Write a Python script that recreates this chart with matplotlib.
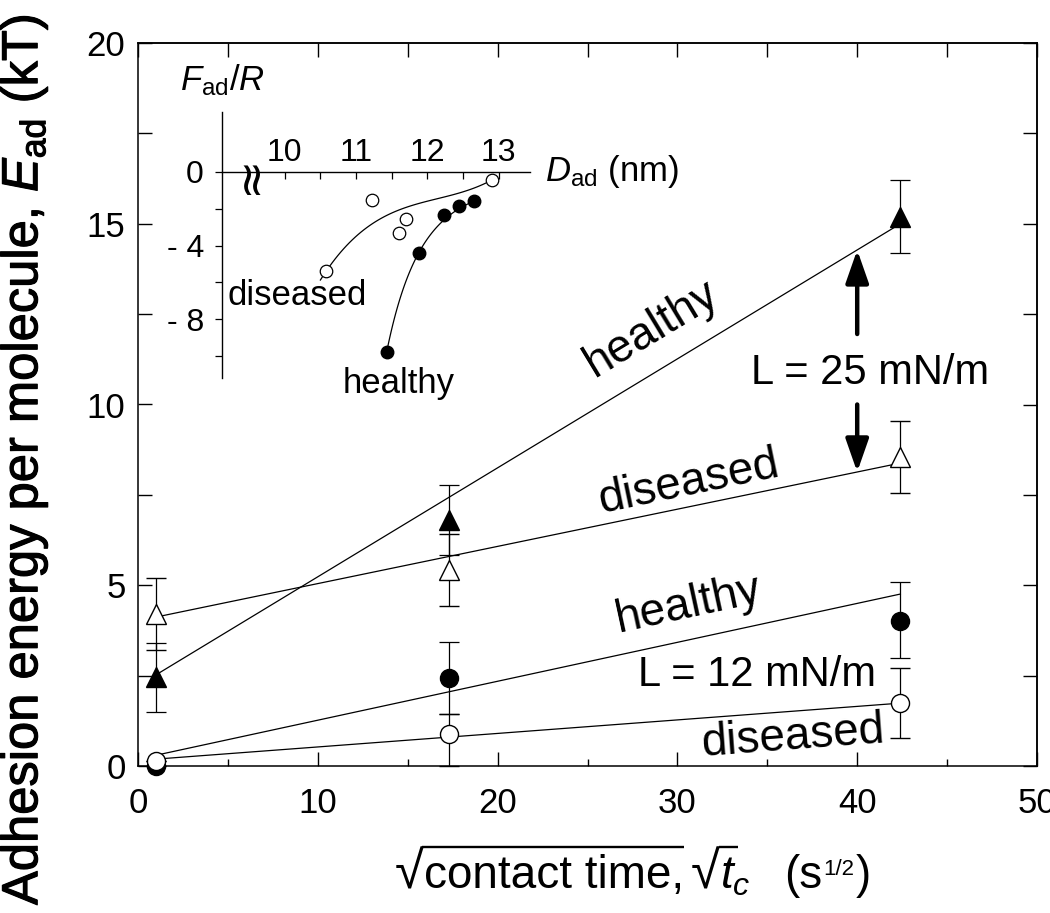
import numpy as np
import matplotlib
matplotlib.use("Agg")
import matplotlib.pyplot as plt
import matplotlib.patheffects as pe
from matplotlib import font_manager as fm
from matplotlib.lines import Line2D
from matplotlib.textpath import TextPath
from matplotlib.transforms import IdentityTransform


def pick_font(name, fallback):
    try:
        fm.findfont(fm.FontProperties(family=name), fallback_to_default=False)
        return name
    except Exception:
        return fallback


SANS = "Liberation Sans"
NARROW = pick_font("Liberation Sans Narrow", SANS)

plt.rcParams["font.family"] = [SANS, "DejaVu Sans"]
plt.rcParams["mathtext.fontset"] = "custom"
plt.rcParams["mathtext.rm"] = SANS
plt.rcParams["mathtext.it"] = SANS + ":italic"
plt.rcParams["mathtext.bf"] = SANS + ":bold"

# main panel: sqrt(contact time) vs adhesion energy (kT)
sqrt_tc = [1.0, 17.3, 42.4]
healthy_25 = [2.45, 6.8, 15.2]
healthy_25_err = [0.95, 0.97, 1.0]
diseased_25 = [4.2, 5.42, 8.55]
diseased_25_err = [1.0, 1.0, 1.0]
healthy_12 = [0.0, 2.43, 4.0]
healthy_12_err_lo = [0.0, 1.0, 1.0]
healthy_12_err_hi = [0.0, 1.0, 1.1]
diseased_12 = [0.15, 0.89, 1.74]
diseased_12_err_lo = [0.0, 0.89, 0.97]
diseased_12_err_hi = [0.0, 0.56, 0.97]

# linear fits: healthy 25, diseased 25, healthy 12, diseased 12
fit_slope = [0.3014, 0.1029, 0.1077, 0.0374]
fit_icpt = [2.22, 4.017, 0.19, 0.153]

# inset: D_ad (nm) vs F_ad/R
d_ad_dis = [10.58, 11.22, 11.60, 11.70, 12.90]
f_ad_dis = [-5.38, -1.52, -3.32, -2.55, -0.43]
d_ad_hea = [11.43, 11.88, 12.23, 12.45, 12.66]
f_ad_hea = [-9.78, -4.4, -2.34, -1.85, -1.58]

# inset fit curves
dis_fit_d0, dis_fit_range = 10.58, (10.50, 12.90)
dis_fit_coef = [-5.4, 5.682, -3.030, 0.647]          # cubic in (D - d0)
hea_fit_d0, hea_fit_range = 11.43, (11.43, 12.66)
hea_fit_logcoef = [2.28, -1.949, 0.379]              # ln(-F) quadratic in (D - d0)


def line(i, x):
    return fit_slope[i] * np.asarray(x) + fit_icpt[i]


fig = plt.figure(figsize=(10.5, 9.13), dpi=100)
W, H = 1050, 913
ax = fig.add_axes([138 / W, 1 - 766 / H, (1037 - 138) / W, (766 - 43) / H])

xfit = np.linspace(sqrt_tc[0], sqrt_tc[-1], 50)
for i in range(4):
    ax.plot(xfit, line(i, xfit), color="k", lw=0.9, zorder=2)

eb = dict(color="k", ecolor="k", elinewidth=0.9, capsize=7, capthick=0.9,
          ls="none", zorder=3, clip_on=False)
ax.errorbar(sqrt_tc, healthy_25, yerr=healthy_25_err, marker="^", ms=14,
            mfc="k", mec="k", **eb)
ax.errorbar(sqrt_tc, diseased_25, yerr=diseased_25_err, marker="^", ms=14,
            mfc="white", mec="k", mew=1.0, **eb)
ax.errorbar(sqrt_tc, healthy_12, yerr=[healthy_12_err_lo, healthy_12_err_hi],
            marker="o", ms=13, mfc="k", mec="k", **eb)
ax.errorbar(sqrt_tc, diseased_12, yerr=[diseased_12_err_lo, diseased_12_err_hi],
            marker="o", ms=13, mfc="white", mec="k", mew=1.0, **eb)

ax.set_xlim(0, 50)
ax.set_ylim(0, 20)
ax.set_xticks(np.arange(0, 51, 10))
ax.set_xticks(np.arange(5, 50, 10), minor=True)
ax.set_yticks(np.arange(0, 21, 5))
ax.set_yticks(np.arange(2.5, 20, 5), minor=True)
ax.tick_params(axis="x", which="major", direction="in", length=10, width=1.0,
               labelsize=25, pad=15)
ax.tick_params(axis="x", which="minor", direction="in", length=5, width=1.0)
ax.tick_params(axis="y", which="both", direction="in", length=10, width=1.0,
               labelsize=25, pad=9)
for sp in ax.spines.values():
    sp.set_linewidth(1.1)

top = ax.secondary_xaxis("top")
top.set_xticks(np.arange(0, 51, 5))
top.tick_params(direction="in", length=10, width=1.0, labeltop=False)
right = ax.secondary_yaxis("right")
right.set_yticks(np.arange(0, 20.1, 2.5))
right.tick_params(direction="in", length=10, width=1.0, labelright=False)
for sec in (top, right):
    for sp in sec.spines.values():
        sp.set_linewidth(1.1)

plt.setp(ax.get_xticklabels() + ax.get_yticklabels(), family=NARROW)


def angle(i):
    return np.degrees(np.arctan(fit_slope[i]))


# labels along the fitted lines
for i, (x, y, s) in enumerate([(28.6, 12.1, "healthy"), (30.6, 7.83, "diseased"),
                               (30.6, 4.45, "healthy"), (36.4, 0.8, "diseased")]):
    ax.text(x, y, s, fontsize=33, rotation=angle(i), transform_rotates_text=True,
            rotation_mode="anchor", ha="center", va="center")
ax.text(34.4, 2.52, "L = 12 mN/m", fontsize=30, ha="center", va="center")
ax.text(40.7, 10.87, "L = 25 mN/m", fontsize=30, ha="center", va="center")

arrow_x = 40
arr = dict(arrowstyle="-|>,head_length=1.0,head_width=0.35", color="k",
           lw=3.2, mutation_scale=20, shrinkA=0, shrinkB=0)
ax.annotate("", xy=(arrow_x, float(line(0, arrow_x))), xytext=(arrow_x, 11.95),
            arrowprops=arr)
ax.annotate("", xy=(arrow_x, float(line(1, arrow_x))), xytext=(arrow_x, 10.0),
            arrowprops=arr)

# x label: built piece by piece so the radicals get a proper bar
renderer = fig.canvas.get_renderer()
PX = fig.dpi / 72.0
base_y = H - 888
lab_size, rad_size = 33, 38
rad_ext = TextPath((0, 0), "\u221a", size=rad_size,
                   prop=fm.FontProperties(family=SANS)).get_extents()
bar_y = base_y + rad_ext.y1 * PX - 1.2


def put(x, s, size, dy=0):
    t = fig.text(x, base_y + dy, s, fontsize=size, ha="left", va="baseline",
                 transform=IdentityTransform())
    return x + t.get_window_extent(renderer).width


def bar(x0, x1):
    fig.add_artist(Line2D([x0, x1], [bar_y, bar_y], color="k", lw=1.7,
                          transform=IdentityTransform(), solid_capstyle="butt"))


x = 395
x_r = put(x, "\u221a", rad_size)
x0 = x + rad_ext.x1 * PX - 1.5
x = put(x_r, "contact time,", lab_size)
bar(x0, x)
x += 7
x_r = put(x, "\u221a", rad_size)
x0 = x + rad_ext.x1 * PX - 1.5
t_w = fig.text(0, 0, "$t$", fontsize=lab_size).get_window_extent(renderer).width
fig.texts[-1].remove()
x_end = put(x_r, "$t_c$", lab_size)
bar(x0, x_r + t_w + 2)
x = put(x_end + 34, "(s", lab_size)
x = put(x + 1, "1/2", 16, dy=13)
put(x + 1, ")", lab_size)

fig.text(24 / W, 1 - 905 / H,
         r"Adhesion energy per molecule, $E_{\mathrm{ad}}$ (kT)",
         rotation=90, ha="center", va="bottom", fontsize=36.5,
         path_effects=[pe.withStroke(linewidth=0.8, foreground="k")])

# inset
axin = fig.add_axes([222 / W, 1 - 378 / H, (530 - 222) / W, (378 - 112) / H])
axin.patch.set_alpha(0)
axin.set_xlim(9.12, 13.44)
axin.set_ylim(-11.2, 3.26)
axin.spines["right"].set_visible(False)
axin.spines["bottom"].set_visible(False)
axin.spines["top"].set_position(("data", 0))
axin.spines["top"].set_linewidth(1.0)
axin.spines["left"].set_linewidth(1.0)
axin.xaxis.set_ticks_position("top")
axin.set_xticks([10, 11, 12, 13])
axin.set_xticks([10.5, 11.5, 12.5], minor=True)
axin.tick_params(axis="x", which="both", direction="in", length=5, width=0.9,
                 labelsize=23, pad=3)
axin.set_yticks([0, -2, -4, -6, -8, -10])
axin.set_yticklabels(["0", "", "- 4", "", "- 8", ""])
axin.tick_params(axis="y", direction="out", length=5, width=0.9,
                 labelsize=23, pad=8)
plt.setp(axin.get_xticklabels() + axin.get_yticklabels(), family=NARROW)

dd = np.linspace(*dis_fit_range, 60) - dis_fit_d0
axin.plot(dd + dis_fit_d0, np.polyval(dis_fit_coef[::-1], dd), color="k", lw=0.9)
hh = np.linspace(*hea_fit_range, 60) - hea_fit_d0
axin.plot(hh + hea_fit_d0, -np.exp(np.polyval(hea_fit_logcoef[::-1], hh)),
          color="k", lw=0.9)
axin.plot(d_ad_dis, f_ad_dis, "o", ms=9, mfc="white", mec="k", mew=0.9)
axin.plot(d_ad_hea, f_ad_hea, "o", ms=9, mfc="k", mec="k")

# axis break mark
axin.text(9.52, -0.1, "\u2248", rotation=90, fontsize=34, family="DejaVu Sans",
          ha="center", va="center")
axin.text(9.12, 5.0, r"$F_{\mathrm{ad}}/R$", fontsize=25, ha="center", va="center")
axin.text(13.65, 0, r"$D_{\mathrm{ad}}$ (nm)", fontsize=25, ha="left", va="center")
axin.text(10.18, -7.23, "diseased", fontsize=25, ha="center", va="baseline")
axin.text(11.60, -12.0, "healthy", fontsize=25, ha="center", va="baseline")

fig.savefig("out.png", dpi=100)
